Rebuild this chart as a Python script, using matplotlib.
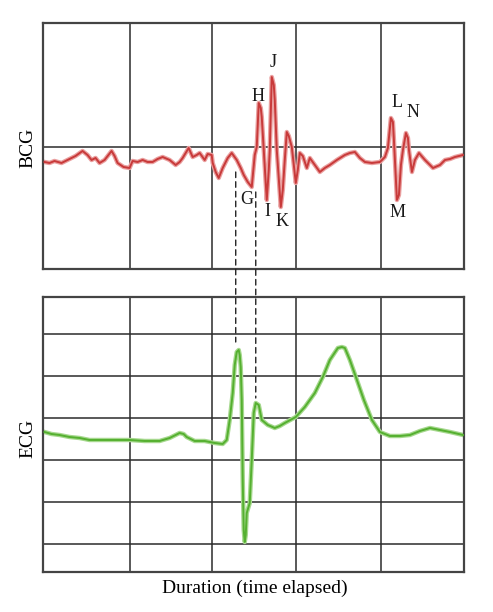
import matplotlib
matplotlib.use('Agg')
import matplotlib.pyplot as plt
from matplotlib.patches import ConnectionPatch

# BCG trace (time in samples, amplitude in arbitrary units)
bcg_t = [1, 6, 11, 18, 26, 32, 39, 44, 48, 52, 56, 61, 68, 71, 74, 80, 86, 89, 94, 99,
         104, 109, 114, 119, 126, 132, 136, 139, 145, 149, 153, 156, 161, 164, 168, 169,
         172, 175, 179, 184, 188, 193, 197, 200, 204, 208, 211, 213, 215, 217, 218, 220,
         223, 225, 226, 228, 230, 231, 233, 237, 239, 241, 243, 245, 248, 250, 252, 254,
         256, 259, 263, 266, 271, 276, 281, 286, 293, 301, 306, 311, 316, 321, 328, 336,
         341, 344, 347, 349, 350, 353, 355, 357, 359, 362, 364, 365, 368, 371, 375, 381,
         386, 389, 396, 401, 406, 411, 419]
bcg_a = [-15, -16, -14, -16, -12, -9, -4, -8, -13, -11, -16, -13, -4, -9, -16, -20, -21, -14, -15, -13,
         -15, -15, -12, -10, -13, -18, -15, -11, -1, -10, -8, -6, -13, -7, -8, -16,
         -25, -31, -21, -11, -6, -13, -21, -28, -35, -40, -8, 0, 44, 39, 30, -3,
         -53, -23, -3, 70, 62, 47, -3, -60, -43, -13, 15, 11, 0, -18, -36, -23,
         -6, -9, -21, -11, -18, -25, -21, -18, -13, -8, -6, -5, -11, -15, -16, -15,
         -10, -1, 29, 25, 7, -53, -48, -18, -3, 14, 9, -3, -25, -13, -6, -13,
         -18, -21, -18, -13, -12, -10, -8]

# ECG trace
ecg_t = [1, 8, 16, 26, 36, 46, 56, 71, 86, 101, 116, 126, 132, 136, 140, 143, 151, 161, 171,
         179, 183, 186, 189, 191, 193, 195, 196, 197, 198, 199, 200, 201, 202, 203, 206, 208,
         210, 212, 215, 218, 224, 231, 236, 241, 252, 261, 271, 279, 286, 294, 298, 301, 306,
         312, 320, 328, 336, 346, 356, 366, 376, 386, 396, 406, 419]
ecg_a = [-14, -16, -17, -19, -20, -22, -22, -22, -22, -23, -23, -20, -17, -15, -16, -19, -23, -23, -25,
         -26, -22, -2, 25, 53, 66, 68, 63, 51, 18, -62, -112, -124, -117, -95, -85, -42,
         5, 15, 13, -2, -7, -10, -8, -5, 1, 11, 25, 41, 58, 70, 71, 70, 58,
         41, 18, -2, -14, -18, -18, -17, -13, -10, -12, -14, -17]

bcg_labels = ['G', 'H', 'I', 'J', 'K', 'L', 'M', 'N']
bcg_label_t = [203, 214, 224, 229, 238, 353, 354, 369]
bcg_label_a = [-53, 51, -65, 85, -75, 44, -66, 34]

grid_t = [86, 168, 252, 337]
ecg_grid_a = [84, 42, 0, -42, -84, -126]

# dashed links: (time, amplitude on BCG, amplitude on ECG)
links_t = [192, 212]
links_bcg = [-25, -45]
links_ecg = [76, 20]

plt.rcParams['font.family'] = ['Liberation Serif', 'DejaVu Serif']

fig = plt.figure(figsize=(4.93, 6.12), dpi=100)
ax1 = fig.add_axes([0.0882, 0.5605, 0.853, 0.4019])
ax2 = fig.add_axes([0.0882, 0.0654, 0.853, 0.4493])

gc = '#2b2b2b'

for ax in (ax1, ax2):
    ax.set_xlim(0, 420)
    ax.set_xticks([])
    ax.set_yticks([])
    for s in ax.spines.values():
        s.set_color('#444444')
        s.set_linewidth(1.6)
    for g in grid_t:
        ax.axvline(g, color=gc, lw=1.1, zorder=1)

ax1.set_ylim(-122, 124)
ax1.axhline(0, color=gc, lw=1.1, zorder=1)
ax1.plot(bcg_t, bcg_a, color='#eaa0a0', lw=3.2, zorder=2, solid_joinstyle='round')
ax1.plot(bcg_t, bcg_a, color='#c83a3a', lw=1.4, zorder=3, solid_joinstyle='round')
for lab, t, a in zip(bcg_labels, bcg_label_t, bcg_label_a):
    ax1.text(t, a, lab, fontsize=13, ha='center', va='center', color='#1a1a1a', zorder=4)

ax2.set_ylim(-154, 121)
for g in ecg_grid_a:
    ax2.axhline(g, color=gc, lw=1.1, zorder=1)
ax2.plot(ecg_t, ecg_a, color='#a6d88e', lw=3.2, zorder=2, solid_joinstyle='round')
ax2.plot(ecg_t, ecg_a, color='#55b030', lw=1.4, zorder=3, solid_joinstyle='round')

for t, a1, a2 in zip(links_t, links_bcg, links_ecg):
    con = ConnectionPatch(xyA=(t, a1), coordsA=ax1.transData,
                          xyB=(t, a2), coordsB=ax2.transData,
                          color='#222222', lw=1.0, linestyle=(0, (4, 3)), zorder=5)
    fig.add_artist(con)

fig.text(0.057, 0.758, 'BCG', rotation=90, fontsize=14, ha='center', va='center')
fig.text(0.057, 0.283, 'ECG', rotation=90, fontsize=14, ha='center', va='center')
fig.text(0.517, 0.039, 'Duration (time elapsed)', fontsize=14, ha='center', va='center')

fig.savefig('out.png', dpi=100)
